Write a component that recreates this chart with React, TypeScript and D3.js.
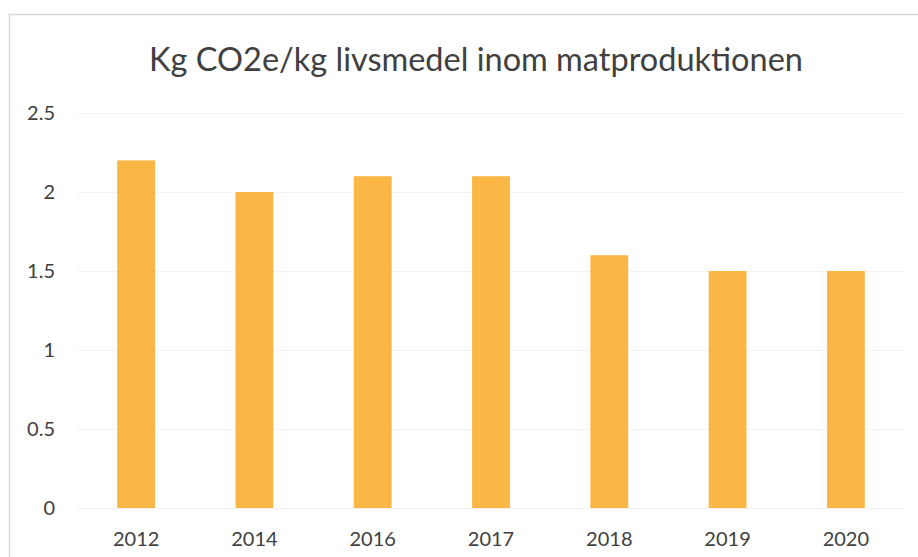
import React, { useEffect, useRef } from 'react'
import * as d3 from 'd3'

const years = ['2012', '2014', '2016', '2017', '2018', '2019', '2020']
const values = [2.2, 2.0, 2.1, 2.1, 1.6, 1.5, 1.5]
const yTicks = [0, 0.5, 1, 1.5, 2, 2.5]
const title = 'Kg CO2e/kg livsmedel inom matproduktionen'

export default function App() {
  const ref = useRef<SVGSVGElement>(null)

  useEffect(() => {
    const svg = d3.select(ref.current)
    svg.selectAll('*').remove()

    const width = 918
    const height = 557
    const font = 'Lato, "Open Sans", sans-serif'

    // chart area border (only left and top visible in the crop)
    svg.append('path')
      .attr('d', 'M9.5,' + height + ' L9.5,14.5 L' + width + ',14.5')
      .attr('fill', 'none')
      .attr('stroke', '#d9d9d9')
      .attr('stroke-width', 1.5)

    let x = d3.scaleBand()
      .domain(years)
      .range([77, 905])
      .paddingInner(0.68)
      .paddingOuter(0.34)

    let y = d3.scaleLinear()
      .domain([0, 2.5])
      .range([508, 113])

    // faint gridlines
    svg.append('g')
      .selectAll('line')
      .data(yTicks)
      .enter().append('line')
      .attr('x1', 77)
      .attr('x2', 905)
      .attr('y1', d => y(d) + 0.5)
      .attr('y2', d => y(d) + 0.5)
      .attr('stroke', '#f3f3f3')
      .attr('stroke-width', 1)

    svg.append('g')
      .selectAll('rect')
      .data(values)
      .enter().append('rect')
      .attr('x', (d, i) => x(years[i]) as number)
      .attr('width', x.bandwidth())
      .attr('y', d => y(d))
      .attr('height', d => y(0) - y(d))
      .attr('fill', '#fbb745')

    // y axis labels
    svg.append('g')
      .selectAll('text')
      .data(yTicks)
      .enter().append('text')
      .attr('x', 55)
      .attr('y', d => y(d))
      .attr('dy', '0.35em')
      .attr('text-anchor', 'end')
      .style('font-family', font)
      .style('font-size', '20px')
      .attr('fill', '#404040')
      .text(d => String(d))

    // x axis labels
    svg.append('g')
      .selectAll('text')
      .data(years)
      .enter().append('text')
      .attr('x', d => (x(d) as number) + x.bandwidth() / 2)
      .attr('y', 546)
      .attr('text-anchor', 'middle')
      .style('font-family', font)
      .style('font-size', '20px')
      .attr('fill', '#404040')
      .text(d => d)

    svg.append('text')
      .attr('x', 476)
      .attr('y', 71)
      .attr('text-anchor', 'middle')
      .style('font-family', font)
      .style('font-size', '32.5px')
      .attr('fill', '#404040')
      .text(title)
  }, [])

  return (
    <svg ref={ref} width={918} height={557}
      style={{ position: 'absolute', left: 0, top: 0, background: '#fff' }} />
  )
}
